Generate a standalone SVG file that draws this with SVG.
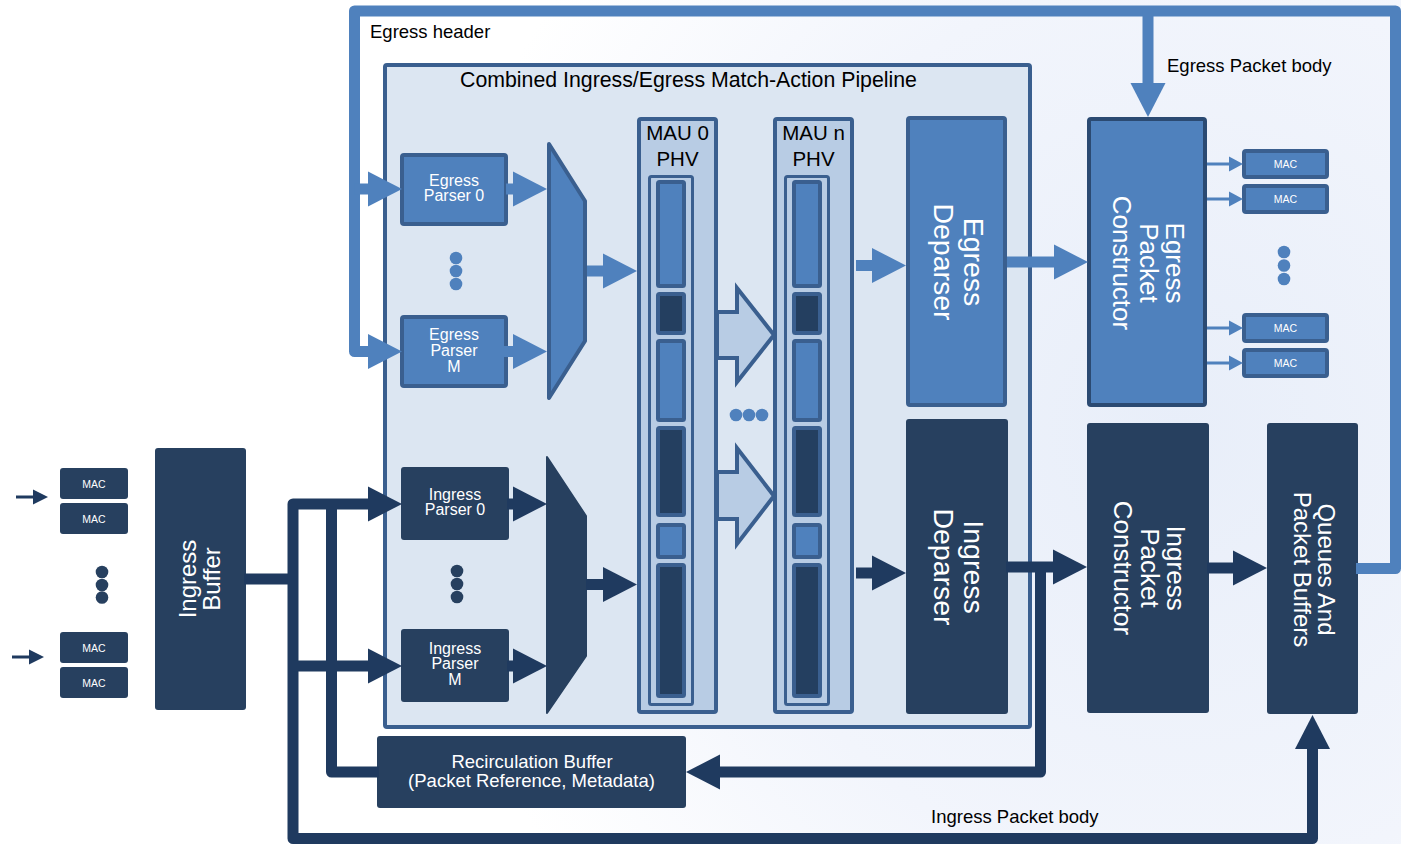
<svg xmlns="http://www.w3.org/2000/svg" width="1401" height="844" viewBox="0 0 1401 844">
  <style>
    text { font-family: "Liberation Sans", Arial, sans-serif; }
    .lt { fill: #4f81bd; stroke: #3a5f8f; stroke-width: 4; }
    .dk { fill: #27405f; }
    .mau { fill: #b8cce4; stroke: #3a5f8f; stroke-width: 4; }
    .frm { fill: #b8cce4; stroke: #3a5f8f; stroke-width: 3; }
    .segL { fill: #4f81bd; stroke: #3a5f8f; stroke-width: 4; }
    .segD { fill: #243f60; stroke: #3a5f8f; stroke-width: 4; }
    .w { fill: #ffffff; }
    .b { fill: #000000; }
    .cL { fill: none; stroke: #4f81bd; stroke-width: 11; stroke-linejoin: round; }
    .cD { fill: none; stroke: #1f3a5f; stroke-width: 11; stroke-linejoin: round; }
    .sL { fill: none; stroke: #4f81bd; stroke-width: 3; }
    .sD { fill: none; stroke: #1f3a5f; stroke-width: 3; }
    .hollow { fill: #b8cce4; stroke: #3a5f8f; stroke-width: 4; stroke-linejoin: miter; }
  </style>
  <defs>
    <radialGradient id="haze" gradientUnits="userSpaceOnUse" cx="1180" cy="430" r="760">
      <stop offset="0" stop-color="#e8eef9"/>
      <stop offset="0.6" stop-color="#f2f5fc"/>
      <stop offset="1" stop-color="#ffffff"/>
    </radialGradient>
    <marker id="hL" markerUnits="userSpaceOnUse" markerWidth="34" markerHeight="35" refX="1" refY="17.5" orient="auto-start-reverse" overflow="visible">
      <path d="M0,0 L34,17.5 L0,35 Z" fill="#4f81bd"/>
    </marker>
    <marker id="hD" markerUnits="userSpaceOnUse" markerWidth="34" markerHeight="35" refX="1" refY="17.5" orient="auto-start-reverse" overflow="visible">
      <path d="M0,0 L34,17.5 L0,35 Z" fill="#1f3a5f"/>
    </marker>
    <marker id="sL" markerUnits="userSpaceOnUse" markerWidth="14" markerHeight="15" refX="1" refY="7.5" orient="auto" overflow="visible">
      <path d="M0,0 L14,7.5 L0,15 Z" fill="#4f81bd"/>
    </marker>
    <marker id="sD" markerUnits="userSpaceOnUse" markerWidth="15" markerHeight="15" refX="1" refY="7.5" orient="auto" overflow="visible">
      <path d="M0,0 L15,7.5 L0,15 Z" fill="#1f3a5f"/>
    </marker>
  </defs>

  <!-- backdrop -->
  <rect x="0" y="0" width="1401" height="844" fill="url(#haze)"/>

  <!-- free labels on the connectors -->
  <text class="b" x="370" y="38" font-size="18.5">Egress header</text>
  <text class="b" x="1167" y="72" font-size="18.5">Egress Packet body</text>
  <text class="b" x="931" y="823" font-size="18.5">Ingress Packet body</text>

  <!-- pipeline container -->
  <g id="pipeline">
    <rect x="385" y="65" width="645" height="662" rx="2" fill="#dce6f2" stroke="#3a5f8f" stroke-width="4"/>
    <text class="b" x="688.5" y="87" font-size="21.3" text-anchor="middle">Combined Ingress/Egress Match-Action Pipeline</text>
  </g>

  <!-- ingress side MACs -->
  <g id="mac-in-0"><rect class="dk" x="60" y="468" width="68" height="31" rx="3"/><text class="w" x="94" y="487.5" font-size="10.5" text-anchor="middle">MAC</text></g>
  <g id="mac-in-1"><rect class="dk" x="60" y="503" width="68" height="31" rx="3"/><text class="w" x="94" y="522.5" font-size="10.5" text-anchor="middle">MAC</text></g>
  <g id="mac-in-dots" fill="#27405f"><circle cx="102" cy="572" r="6.3"/><circle cx="102" cy="585" r="6.3"/><circle cx="102" cy="597.5" r="6.3"/></g>
  <g id="mac-in-2"><rect class="dk" x="60" y="632" width="68" height="31" rx="3"/><text class="w" x="94" y="651.5" font-size="10.5" text-anchor="middle">MAC</text></g>
  <g id="mac-in-3"><rect class="dk" x="60" y="667" width="68" height="31" rx="3"/><text class="w" x="94" y="686.5" font-size="10.5" text-anchor="middle">MAC</text></g>

  <!-- ingress buffer -->
  <g id="ingress-buffer">
    <rect class="dk" x="155" y="448" width="91" height="262" rx="3"/>
    <text class="w" font-size="24" text-anchor="middle" transform="translate(200.5,579) rotate(-90)"><tspan x="0" y="-4.5">Ingress</tspan><tspan x="0" y="19.5">Buffer</tspan></text>
  </g>

  <!-- egress parsers -->
  <g id="egress-parser-0">
    <rect class="lt" x="402" y="155" width="104" height="69" rx="2"/>
    <text class="w" font-size="16" text-anchor="middle"><tspan x="454" y="186">Egress</tspan><tspan x="454" y="201">Parser 0</tspan></text>
  </g>
  <g id="egress-parser-dots" fill="#4f81bd"><circle cx="456" cy="258" r="6.3"/><circle cx="456" cy="271" r="6.3"/><circle cx="456" cy="284" r="6.3"/></g>
  <g id="egress-parser-m">
    <rect class="lt" x="402" y="317" width="104" height="69" rx="2"/>
    <text class="w" font-size="16" text-anchor="middle"><tspan x="454" y="340">Egress</tspan><tspan x="454" y="356">Parser</tspan><tspan x="454" y="372">M</tspan></text>
  </g>

  <!-- ingress parsers -->
  <g id="ingress-parser-0">
    <rect class="dk" x="401" y="467" width="108" height="73" rx="3"/>
    <text class="w" font-size="16" text-anchor="middle"><tspan x="455" y="500">Ingress</tspan><tspan x="455" y="515">Parser 0</tspan></text>
  </g>
  <g id="ingress-parser-dots" fill="#27405f"><circle cx="457" cy="571" r="6.3"/><circle cx="457" cy="584" r="6.3"/><circle cx="457" cy="597" r="6.3"/></g>
  <g id="ingress-parser-m">
    <rect class="dk" x="401" y="629" width="108" height="73" rx="3"/>
    <text class="w" font-size="16" text-anchor="middle"><tspan x="455" y="654">Ingress</tspan><tspan x="455" y="669">Parser</tspan><tspan x="455" y="685">M</tspan></text>
  </g>

  <!-- parser multiplexers -->
  <g id="egress-mux">
    <polygon class="lt" points="549,144 585,201 585,341 549,398" stroke-linejoin="round"/>
  </g>
  <g id="ingress-mux">
    <polygon points="547,457 586,516 586,656 547,713" fill="#27405f" stroke="#27405f" stroke-width="2" stroke-linejoin="round"/>
  </g>

  <!-- match-action stage 0 -->
  <g id="mau-0">
    <rect class="mau" x="639" y="119" width="77" height="593" rx="2"/>
    <text class="b" font-size="20.5" text-anchor="middle"><tspan x="677.5" y="139.5">MAU 0</tspan><tspan x="677.5" y="166">PHV</tspan></text>
    <rect class="frm" x="649.5" y="176.5" width="43" height="528" rx="2"/>
    <rect class="segL" x="658" y="182" width="26" height="104" rx="1.5"/>
    <rect class="segD" x="658" y="294" width="26" height="39" rx="1.5"/>
    <rect class="segL" x="658" y="341" width="26" height="79" rx="1.5"/>
    <rect class="segD" x="658" y="428" width="26" height="87" rx="1.5"/>
    <rect class="segL" x="658" y="525" width="26" height="32" rx="1.5"/>
    <rect class="segD" x="658" y="565" width="26" height="131" rx="1.5"/>
  </g>

  <!-- match-action stage n -->
  <g id="mau-n" transform="translate(136,0)">
    <rect class="mau" x="639" y="119" width="77" height="593" rx="2"/>
    <text class="b" font-size="20.5" text-anchor="middle"><tspan x="677.5" y="139.5">MAU n</tspan><tspan x="677.5" y="166">PHV</tspan></text>
    <rect class="frm" x="649.5" y="176.5" width="43" height="528" rx="2"/>
    <rect class="segL" x="658" y="182" width="26" height="104" rx="1.5"/>
    <rect class="segD" x="658" y="294" width="26" height="39" rx="1.5"/>
    <rect class="segL" x="658" y="341" width="26" height="79" rx="1.5"/>
    <rect class="segD" x="658" y="428" width="26" height="87" rx="1.5"/>
    <rect class="segL" x="658" y="525" width="26" height="32" rx="1.5"/>
    <rect class="segD" x="658" y="565" width="26" height="131" rx="1.5"/>
  </g>
  <g id="mau-dots" fill="#4f81bd"><circle cx="736" cy="415" r="6.3"/><circle cx="749" cy="415" r="6.3"/><circle cx="762" cy="415" r="6.3"/></g>

  <!-- deparsers -->
  <g id="egress-deparser">
    <rect class="lt" x="908" y="118" width="97" height="287" rx="2"/>
    <text class="w" font-size="28.5" text-anchor="middle" transform="translate(957,262) rotate(90)"><tspan x="0" y="-7">Egress</tspan><tspan x="0" y="23">Deparser</tspan></text>
  </g>
  <g id="ingress-deparser">
    <rect class="dk" x="906" y="419" width="102" height="295" rx="3"/>
    <text class="w" font-size="28.5" text-anchor="middle" transform="translate(957,567) rotate(90)"><tspan x="0" y="-7">Ingress</tspan><tspan x="0" y="23">Deparser</tspan></text>
  </g>

  <!-- packet constructors -->
  <g id="egress-packet-constructor">
    <rect x="1089" y="119" width="116" height="286" rx="2" fill="#4f81bd" stroke="#2b4a72" stroke-width="4"/>
    <text class="w" font-size="26" text-anchor="middle" transform="translate(1147,263) rotate(90)"><tspan x="0" y="-19">Egress</tspan><tspan x="0" y="7">Packet</tspan><tspan x="0" y="34">Constructor</tspan></text>
  </g>
  <g id="ingress-packet-constructor">
    <rect class="dk" x="1087" y="423" width="122" height="290" rx="3"/>
    <text class="w" font-size="26" text-anchor="middle" transform="translate(1147.5,568) rotate(90)"><tspan x="0" y="-19">Ingress</tspan><tspan x="0" y="7">Packet</tspan><tspan x="0" y="34">Constructor</tspan></text>
  </g>

  <!-- egress side MACs -->
  <g id="mac-out-0"><rect class="lt" x="1244" y="151" width="83" height="26" rx="2"/><text class="w" x="1285.5" y="167.5" font-size="10.5" text-anchor="middle">MAC</text></g>
  <g id="mac-out-1"><rect class="lt" x="1244" y="186" width="83" height="26" rx="2"/><text class="w" x="1285.5" y="202.5" font-size="10.5" text-anchor="middle">MAC</text></g>
  <g id="mac-out-dots" fill="#4f81bd"><circle cx="1284" cy="252" r="6.3"/><circle cx="1284" cy="265.5" r="6.3"/><circle cx="1284" cy="279" r="6.3"/></g>
  <g id="mac-out-2"><rect class="lt" x="1244" y="315" width="83" height="26" rx="2"/><text class="w" x="1285.5" y="331.5" font-size="10.5" text-anchor="middle">MAC</text></g>
  <g id="mac-out-3"><rect class="lt" x="1244" y="350" width="83" height="26" rx="2"/><text class="w" x="1285.5" y="366.5" font-size="10.5" text-anchor="middle">MAC</text></g>

  <!-- queues -->
  <g id="queues">
    <rect class="dk" x="1267" y="423" width="91" height="291" rx="3"/>
    <text class="w" font-size="24" text-anchor="middle" transform="translate(1312.5,569.5) rotate(90)"><tspan x="0" y="-5.5">Queues And</tspan><tspan x="0" y="18.5">Packet Buffers</tspan></text>
  </g>

  <!-- recirculation buffer -->
  <g id="recirculation-buffer">
    <rect class="dk" x="377" y="736" width="309" height="72" rx="3"/>
    <text class="w" font-size="18.5" text-anchor="middle"><tspan x="532" y="768">Recirculation Buffer</tspan><tspan x="531.5" y="787">(Packet Reference, Metadata)</tspan></text>
  </g>

  <!-- connectors -->
  <g id="connectors">
    <!-- egress header loop and egress body -->
    <path class="cL" d="M1356,568.5 H1395.5 V11 H354.5 V351.5 H369" marker-end="url(#hL)"/>
    <path class="cL" d="M354.5,189 H369" marker-end="url(#hL)"/>
    <path class="cL" d="M1148,11 V84" marker-end="url(#hL)"/>
    <!-- egress pipeline -->
    <path class="cL" d="M506,189 H514" marker-end="url(#hL)"/>
    <path class="cL" d="M496,351.5 H514" marker-end="url(#hL)"/>
    <path class="cL" d="M587,271 H604" marker-end="url(#hL)"/>
    <path class="cL" d="M856,265.5 H873" marker-end="url(#hL)"/>
    <path class="cL" d="M1007,262 H1055" marker-end="url(#hL)"/>
    <path class="sL" d="M1207,164 H1230" marker-end="url(#sL)"/>
    <path class="sL" d="M1207,199 H1230" marker-end="url(#sL)"/>
    <path class="sL" d="M1207,328 H1230" marker-end="url(#sL)"/>
    <path class="sL" d="M1207,363 H1230" marker-end="url(#sL)"/>
    <!-- stage to stage PHV hand-off -->
    <polygon class="hollow" points="717,312 737,312 737,288 774,335 737,382 737,358 717,358"/>
    <polygon class="hollow" points="717,472 737,472 737,448 774,496 737,544 737,519 717,519"/>
    <!-- ingress input and bus -->
    <path class="sD" d="M16,497 H34" marker-end="url(#sD)"/>
    <path class="sD" d="M12,657 H30" marker-end="url(#sD)"/>
    <path class="cD" d="M244,579 H293"/>
    <path class="cD" d="M369,504 H293 V838.5 H1312.5 V748" marker-start="url(#hD)" marker-end="url(#hD)"/>
    <path class="cD" d="M293,666 H369" marker-end="url(#hD)"/>
    <path class="cD" d="M379,772 H331.5 V504"/>
    <!-- ingress pipeline -->
    <path class="cD" d="M507,504 H514" marker-end="url(#hD)"/>
    <path class="cD" d="M507,666 H514" marker-end="url(#hD)"/>
    <path class="cD" d="M586,584.5 H604" marker-end="url(#hD)"/>
    <path class="cD" d="M856,573 H873" marker-end="url(#hD)"/>
    <path class="cD" d="M1006,567 H1054" marker-end="url(#hD)"/>
    <path class="cD" d="M1040.5,567 V772 H719" marker-end="url(#hD)"/>
    <path class="cD" d="M1207,568 H1234" marker-end="url(#hD)"/>
  </g>
</svg>
